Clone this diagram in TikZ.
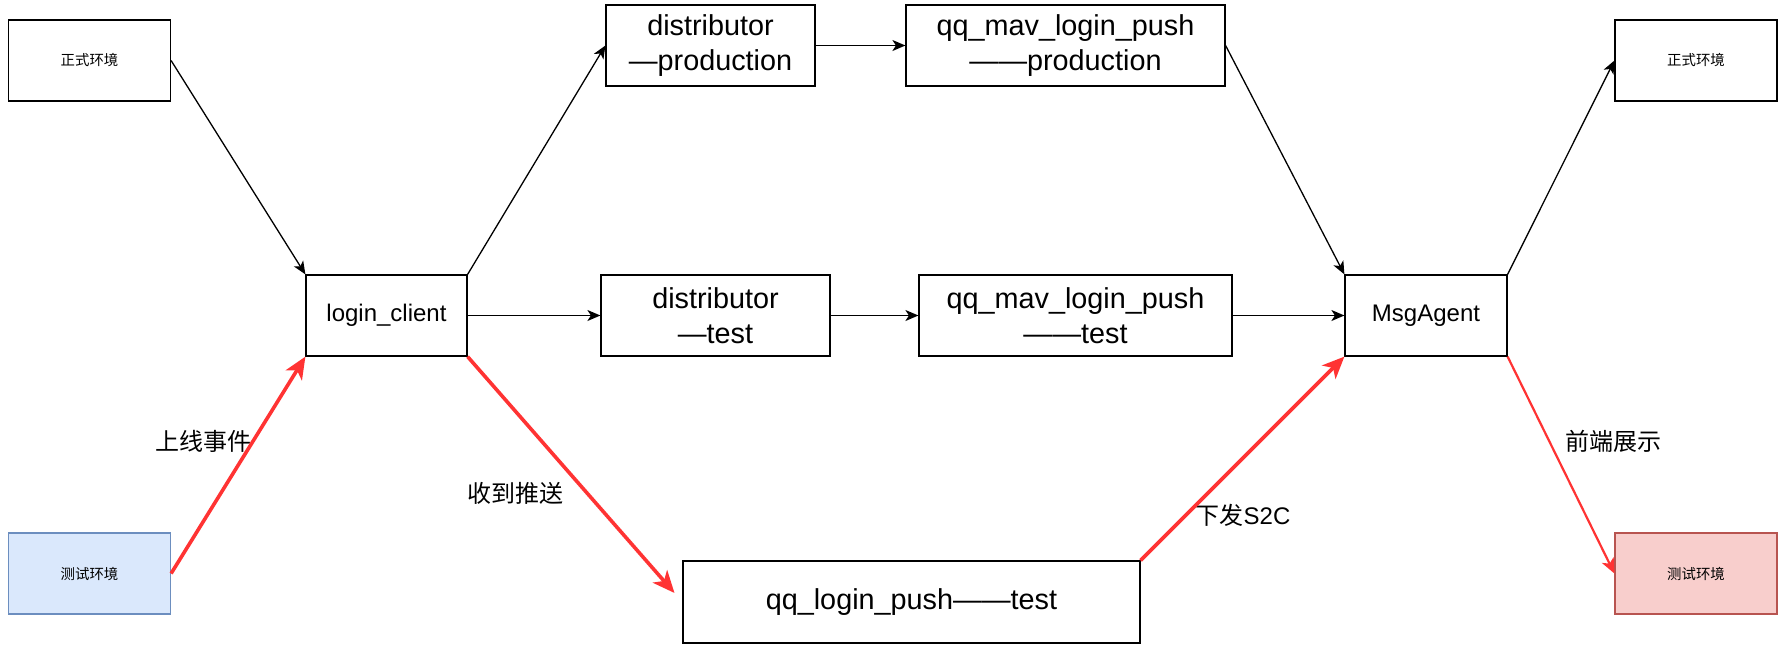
\documentclass[tikz,border=0pt]{standalone}
\usepackage{fontspec}
\setmainfont{Liberation Sans}
\newfontfamily\cjkfont{Noto Sans CJK SC}
\usepackage{xcolor}
\usetikzlibrary{arrows.meta}
\definecolor{pushred}{HTML}{FF3333}
\definecolor{testblue}{HTML}{DAE8FC}
\definecolor{testblueline}{HTML}{6C8EBF}
\definecolor{testpink}{HTML}{F8CECC}
\definecolor{testpinkline}{HTML}{B85450}
\tikzset{
  box/.style={draw=black, line width=1.2pt, inner sep=0pt, align=center, minimum height=81pt},
  envbox/.style={box, minimum width=162pt, font=\cjkfont\fontsize{14.4}{17}\selectfont},
  smallbox/.style={box, font=\fontsize{24}{29}\selectfont},
  bigbox/.style={box, font=\fontsize{28.8}{34.6}\selectfont},
  flow/.style={line width=1.3pt, -{Stealth[length=13pt, width=11pt, inset=3.5pt]}},
  testflow/.style={draw=pushred, line width=3.6pt, -{Stealth[length=22pt, width=19pt, inset=6pt]}},
  edgelabel/.style={font=\cjkfont\fontsize{24}{29}\selectfont},
}

\begin{document}
\begin{tikzpicture}[x=1pt, y=-1pt]
    \useasboundingbox (0,0) rectangle (1792,649);
    % Environments
    \node[envbox] (prodL) at (89.5,60.5) {正式环境};
    \node[envbox, fill=testblue, draw=testblueline] (testL) at (89.5,573.5) {测试环境};
    \node[envbox] (prodR) at (1696,60.5) {正式环境};
    \node[envbox, fill=testpink, draw=testpinkline] (testR) at (1696,573.5) {测试环境};
    % Services
    \node[smallbox, minimum width=161pt] (login) at (386.5,315.5) {login\_client};
    \node[bigbox, minimum width=209pt] (distProd) at (710.5,45.5) {distributor\\—production};
    \node[bigbox, minimum width=319pt] (mavProd) at (1065.5,45.5) {qq\_mav\_login\_push\\——production};
    \node[bigbox, minimum width=229pt] (distTest) at (715.5,315.5) {distributor\\—test};
    \node[bigbox, minimum width=313pt] (mavTest) at (1075.5,315.5) {qq\_mav\_login\_push\\——test};
    \node[smallbox, minimum width=162pt] (msg) at (1426,315.5) {MsgAgent};
    \node[bigbox, minimum width=457pt, minimum height=82pt] (push) at (911.5,602) {qq\_login\_push——test};
    % Labels
    \node[edgelabel] (lblOnline) at (203,441) {上线事件};
    \node[edgelabel] (lblRecv) at (515,493) {收到推送};
    \node[edgelabel] (lblSend) at (1243,515) {下发{\rmfamily S2C}};
    \node[edgelabel] (lblShow) at (1613,441) {前端展示};
    % Production path
    \draw[flow] (prodL.east) -- (login.north west);
    \draw[flow] (login.north east) -- (distProd.west);
    \draw[flow] (distProd.east) -- (mavProd.west);
    \draw[flow] (mavProd.east) -- (msg.north west);
    \draw[flow] (msg.north east) -- (prodR.west);
    \draw[flow] (login.east) -- (distTest.west);
    \draw[flow] (distTest.east) -- (mavTest.west);
    \draw[flow] (mavTest.east) -- (msg.west);
    % Test path
    \draw[testflow] (testL.east) -- (login.south west);
    \draw[testflow, shorten >=12pt] (login.south east) -- (push.west);
    \draw[testflow] (push.north east) -- (msg.south west);
    \draw[testflow, line width=2.2pt, -{Stealth[length=15pt, width=13pt, inset=4pt]}] (msg.south east) -- (testR.west);
\end{tikzpicture}
\end{document}
